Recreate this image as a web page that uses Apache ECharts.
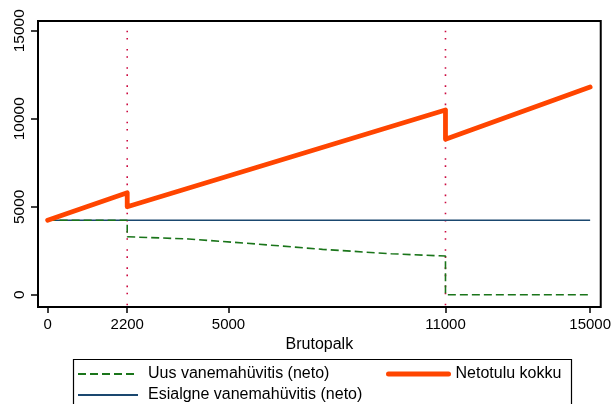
<!DOCTYPE html>
<html>
<head>
<meta charset="utf-8">
<script src="https://cdn.jsdelivr.net/npm/echarts@6/dist/echarts.min.js"></script>
<style>
html,body{margin:0;padding:0;background:#fff;}
#chart{width:614px;height:404px;}
</style>
</head>
<body>
<div id="chart"></div>
<script>
// ---- data ----
const xTicks = [0, 2200, 5000, 11000, 15000];
const yTicks = [0, 5000, 10000, 15000];
const refLinesX = [2200, 11000];
const refLineTop = 15000;

const netX = [0, 2200, 2200, 11000, 11000, 15000];
const netY = [4230, 5800, 5000, 10500, 8830, 11800];

const oldX = [0, 15000];
const oldY = [4230, 4230];

const newX = [0, 2200, 2200, 3900, 3900, 5800, 5800, 7600, 7600, 9500, 9500, 11000, 11000, 15000];
const newY = [4230, 4230, 3295, 3170, 3110, 2880, 2790, 2580, 2530, 2330, 2270, 2200, 0, 0];

const names = {
  newB: 'Uus vanemahüvitis (neto)',
  net: 'Netotulu kokku',
  oldB: 'Esialgne vanemahüvitis (neto)'
};

// ---- build ----
const X_MIN = -267, X_MAX = 15293, Y_MIN = -695, Y_MAX = 15555;
const pairs = (xs, ys) => xs.map((x, i) => [x, ys[i]]);
const FONT = '"Liberation Sans", Arial, Helvetica, sans-serif';
const plain = v => String(v);

const refSeries = refLinesX.map(x => ({
  type: 'line',
  data: [[x, refLineTop], [x, Y_MIN]],
  symbol: 'none',
  silent: true,
  z: 1,
  lineStyle: { color: '#cc0a40', width: 1.6, type: [1.6, 5.6, 1.6, 9.4] }
}));

const legendCommon = {
  orient: 'vertical', top: 365,
  itemWidth: 60, itemHeight: 14, itemGap: 3, padding: 0,
  itemStyle: { opacity: 0, color: 'rgba(0,0,0,0)', borderWidth: 0 }
};

const chart = echarts.init(document.getElementById('chart'), null, { renderer: 'canvas' });
chart.setOption({
  animation: false,
  backgroundColor: '#fff',
  textStyle: { fontFamily: FONT },
  grid: {
    left: 38, right: 11, top: 21, bottom: 97,
    show: true, borderColor: '#000', borderWidth: 2, backgroundColor: 'transparent'
  },
  xAxis: {
    type: 'value', min: X_MIN, max: X_MAX,
    axisLine: { show: false, onZero: false },
    splitLine: { show: false },
    axisTick: { show: true, inside: false, customValues: xTicks, length: 6, lineStyle: { color: '#000', width: 1.5 } },
    axisLabel: { customValues: xTicks, formatter: plain, color: '#000', fontSize: 15, fontFamily: FONT, margin: 10 },
    name: 'Brutopalk', nameLocation: 'middle', nameGap: 25,
    nameTextStyle: { color: '#000', fontSize: 16, fontFamily: FONT }
  },
  yAxis: {
    type: 'value', min: Y_MIN, max: Y_MAX,
    axisLine: { show: false, onZero: false },
    splitLine: { show: false },
    axisTick: { show: true, inside: false, customValues: yTicks, length: 7, lineStyle: { color: '#000', width: 1.5 } },
    axisLabel: { customValues: yTicks, formatter: plain, color: '#000', fontSize: 15.5, fontFamily: FONT, rotate: 90, margin: 10 }
  },
  legend: [
    Object.assign({}, legendCommon, {
      data: [names.newB, names.oldB], left: 77,
      textStyle: { color: '#000', fontSize: 16, lineHeight: 18, fontFamily: FONT, padding: [0, 0, 0, 5] }
    }),
    Object.assign({}, legendCommon, {
      data: [names.net], left: 386,
      lineStyle: { width: 5 },
      textStyle: { color: '#000', fontSize: 16, lineHeight: 18, fontFamily: FONT, padding: [0, 0, 0, 2] }
    })
  ],
  graphic: [{
    type: 'rect', left: 71, top: 357, silent: true,
    shape: { width: 498, height: 60 },
    style: { fill: 'none', stroke: '#000', lineWidth: 1.2 }
  }],
  series: refSeries.concat([
    {
      name: names.oldB, type: 'line', data: pairs(oldX, oldY), symbol: 'none', z: 2,
      lineStyle: { color: '#1a476f', width: 1.5 }, itemStyle: { color: '#1a476f' }
    },
    {
      name: names.newB, type: 'line', data: pairs(newX, newY), symbol: 'none', z: 3,
      lineStyle: { color: '#1a751a', width: 1.6, type: [8, 4] }, itemStyle: { color: '#1a751a' }
    },
    {
      name: names.net, type: 'line', data: pairs(netX, netY), symbol: 'none', z: 4,
      lineStyle: { color: '#ff4500', width: 4.8, join: 'round', cap: 'round' }, itemStyle: { color: '#ff4500' }
    }
  ])
});
</script>
</body>
</html>
